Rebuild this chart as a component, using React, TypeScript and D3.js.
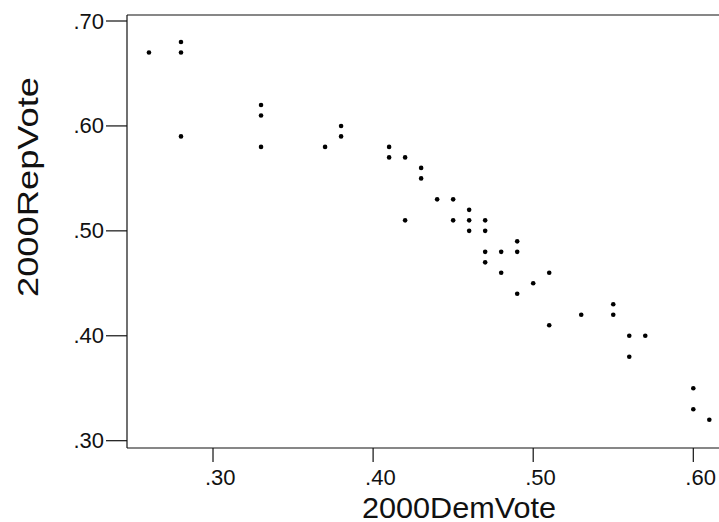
import React from "react";
import * as d3 from "d3";

const demVote = [
  0.26, 0.28, 0.28, 0.28, 0.33, 0.33, 0.33, 0.37, 0.38, 0.38, 0.41, 0.41, 0.42, 0.42, 0.43,
  0.43, 0.44, 0.45, 0.45, 0.46, 0.46, 0.46, 0.47, 0.47, 0.47, 0.47, 0.48, 0.48, 0.49, 0.49,
  0.49, 0.5, 0.51, 0.51, 0.53, 0.55, 0.55, 0.56, 0.56, 0.57, 0.6, 0.6, 0.61,
];
const repVote = [
  0.67, 0.68, 0.67, 0.59, 0.62, 0.61, 0.58, 0.58, 0.6, 0.59, 0.58, 0.57, 0.57, 0.51, 0.56,
  0.55, 0.53, 0.53, 0.51, 0.52, 0.51, 0.5, 0.51, 0.5, 0.48, 0.47, 0.48, 0.46, 0.49, 0.48,
  0.44, 0.45, 0.46, 0.41, 0.42, 0.43, 0.42, 0.4, 0.38, 0.4, 0.35, 0.33, 0.32,
];
const xTicks = [0.3, 0.4, 0.5, 0.6];
const yTicks = [0.3, 0.4, 0.5, 0.6, 0.7];

const W = 719;
const H = 522;
const left = 127;
const right = 719;
const top = 15;
const bottom = 448;
const font = "'Liberation Sans', Arial, Helvetica, sans-serif";
const ink = "#111";

const fmt = (v: number) => d3.format(".2f")(v).replace(/^0/, "");

export default function App() {
  const x = d3.scaleLinear().domain([0.24628, 0.61605]).range([left, right]);
  const y = d3.scaleLinear().domain([0.29304, 0.70572]).range([bottom, top]);

  return (
    <svg
      width={W}
      height={H}
      style={{ position: "absolute", left: 0, top: 0, background: "#fff" }}
    >
      {/* frame */}
      <g stroke={ink} strokeWidth={1.2} fill="none">
        <line x1={left} x2={right} y1={top} y2={top} />
        <line x1={left} x2={left} y1={top} y2={bottom} />
        <line x1={left} x2={right} y1={bottom} y2={bottom} />
      </g>

      {/* y axis */}
      {yTicks.map((t) => (
        <g key={"y" + t}>
          <line x1={left - 21} x2={left} y1={y(t)} y2={y(t)} stroke={ink} strokeWidth={1.2} />
          <text
            x={left - 23}
            y={y(t) + 7.5}
            textAnchor="end"
            fontFamily={font}
            fontSize={22}
            fill={ink}
          >
            {fmt(t)}
          </text>
        </g>
      ))}

      {/* x axis */}
      {xTicks.map((t) => (
        <g key={"x" + t}>
          <line x1={x(t)} x2={x(t)} y1={bottom} y2={bottom + 14} stroke={ink} strokeWidth={1.2} />
          <text
            x={x(t) - 8}
            y={bottom + 37}
            textAnchor="start"
            fontFamily={font}
            fontSize={22}
            fill={ink}
          >
            {fmt(t)}
          </text>
        </g>
      ))}

      {/* points */}
      {demVote.map((d, i) => (
        <circle key={i} cx={x(d)} cy={y(repVote[i])} r={2.3} fill="#000" />
      ))}

      {/* titles */}
      <text
        x={459}
        y={518}
        textAnchor="middle"
        fontFamily={font}
        fontSize={29}
        fill={ink}
        textLength={194}
        lengthAdjust="spacingAndGlyphs"
      >
        2000DemVote
      </text>
      <text
        transform={`translate(38,187) rotate(-90)`}
        textAnchor="middle"
        fontFamily={font}
        fontSize={29}
        fill={ink}
        textLength={220}
        lengthAdjust="spacingAndGlyphs"
      >
        2000RepVote
      </text>
    </svg>
  );
}
